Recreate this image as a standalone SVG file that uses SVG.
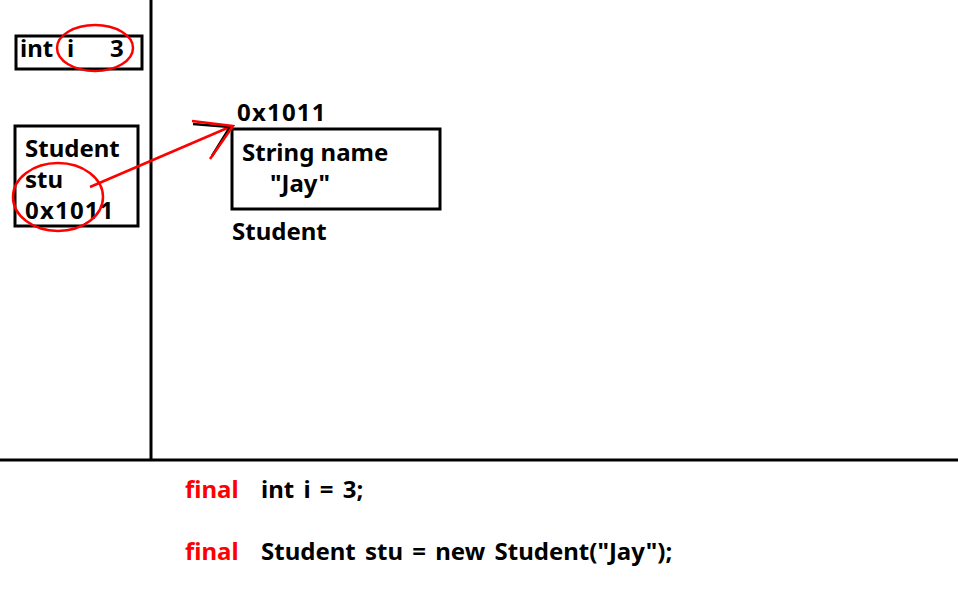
<svg xmlns="http://www.w3.org/2000/svg" width="958" height="602" viewBox="0 0 958 602">
<style>
.t{font-family:"Noto Sans","Liberation Sans",sans-serif;font-weight:bold;font-size:24px;fill:#000}
.r{fill:#ff0000}
.hex{letter-spacing:1.2px}
.code{word-spacing:3px}
.box{fill:none;stroke:#000;stroke-width:3}
.ell{fill:none;stroke:#ff0000;stroke-width:2.5}
.ln{stroke:#000;stroke-width:3}
</style>
<rect width="958" height="602" fill="#fff"/>
<g id="frame">
<line class="ln" x1="151" y1="0" x2="151" y2="460"/>
<line class="ln" x1="0" y1="460" x2="958" y2="460"/>
</g>
<g id="var-i">
<rect class="box" x="16" y="36" width="126" height="33"/>
<text class="t" x="20" y="57">int</text>
<text class="t" x="67" y="57">i</text>
<text class="t" x="110" y="57">3</text>
<ellipse class="ell" cx="95" cy="48" rx="38" ry="23"/>
</g>
<g id="var-stu">
<rect class="box" x="15" y="126" width="123" height="100"/>
<text class="t" x="25" y="157">Student</text>
<text class="t" x="25" y="188">stu</text>
<text class="t hex" x="25" y="219">0x1011</text>
<ellipse class="ell" cx="58" cy="197" rx="45" ry="34"/>
</g>
<g id="heap-obj">
<text class="t hex" x="237" y="121">0x1011</text>
<rect class="box" x="232" y="129" width="208" height="80"/>
<text class="t" x="242" y="161">String name</text>
<text class="t" x="270" y="192">"Jay"</text>
<text class="t" x="232" y="240">Student</text>
</g>
<g id="connectors">
<line x1="90" y1="187" x2="232" y2="126" stroke="#ff0000" stroke-width="2.5"/>
<polyline points="193,124 230,127 212,156" fill="none" stroke="#000" stroke-width="2.5"/>
<polyline points="192,121 233,126 210,159" fill="none" stroke="#ff0000" stroke-width="2.5"/>
</g>
<g id="code">
<text class="t r" x="185" y="498">final</text>
<text class="t code" x="261" y="498">int i = 3;</text>
<text class="t r" x="185" y="560">final</text>
<text class="t code" x="261" y="560">Student stu = new Student("Jay");</text>
</g>
</svg>
